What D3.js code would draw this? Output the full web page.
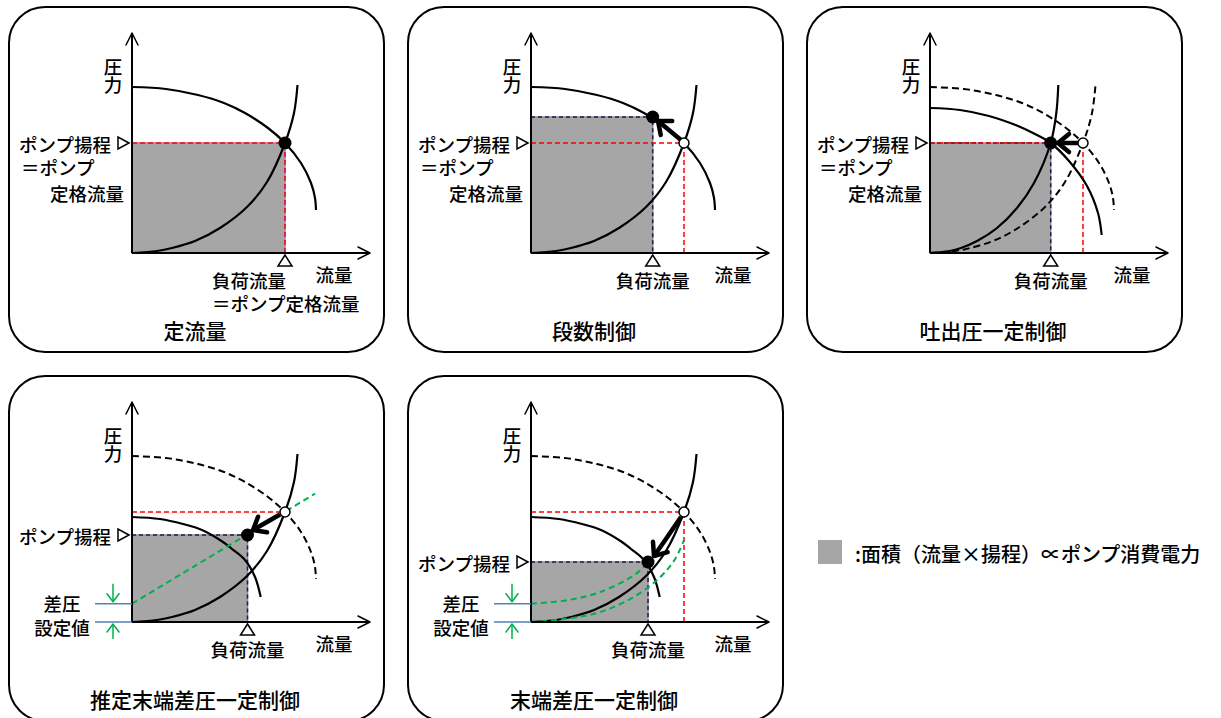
<!DOCTYPE html>
<html>
<head>
<meta charset="utf-8">
<title>ポンプ制御方式</title>
<script src="https://cdn.jsdelivr.net/npm/d3@7"></script>
<style>
  body { margin: 0; background: #fff; }
  svg text { font-family: "Noto Sans CJK JP", "Noto Sans", sans-serif; fill: #000; font-weight: 500; }
</style>
</head>
<body>
<script>
// values: [flow, head], in px from each panel's origin
var titles = ["定流量", "段数制御", "吐出圧一定制御", "推定末端差圧一定制御", "末端差圧一定制御"];

var pumpRated    = [[0,166],[34,164],[66,158],[92,150],[113,140],[136,125],[153,110],[169,90],[179,70],[183,55],[184,43]];
var systemRated  = [[0,0],[25,2],[40,5],[63,12],[88,25],[115,46],[135,71],[153,110],[162,140],[165.5,168]];
var pumpLowered  = [[0,145],[30,143],[59,137],[88,127],[103,120],[120.7,110],[139,92],[157,67],[168,40],[171.7,18]];
var systemValve  = [[0,0],[19.6,2],[31,5],[47,12],[67,25],[87,45],[104,70],[120.7,110],[126.3,140],[128.3,168]];
var pumpSlow     = [[0,105],[28,103],[51,98],[70,92],[91,80],[100,73],[113,62],[123,45],[128.7,25]];
var estLine      = [[0,18.3],[183,128.3]];
var endUpper     = [[0,18.3],[36,21.7],[69.3,30],[102.7,46.7],[117.7,60],[136,83.3],[152.7,110]];
var endLower     = [[0,0],[36,3.3],[69.3,10],[102.7,25],[129.3,45],[144.3,63.3],[153,82]];

var ratedPoint     = [153,110];
var stagePoint     = [121.7,136];
var dischargePoint = [120.7,110];
var estPoint       = [115.5,87];
var endPoint       = [117,60];
var dpSetting      = 18.3;

var arrowStage     = [[150,113],[127,132]];
var arrowDischarge = [[148,110],[128,110]];
var arrowEst       = [[148,107.5],[121,92]];
var arrowEnd       = [[150,105],[137,86],[123,66]];

var headLines = ["ポンプ揚程", "＝ポンプ", "定格流量"];
var flowLines = ["負荷流量", "＝ポンプ定格流量"];
var axisY = "圧力";
var dpLines = ["差圧", "設定値"];
var legendText = ":面積（流量×揚程）∝ポンプ消費電力";

var W = 1221, H = 718;
var FS = 18.5;

var svg = d3.select("body").append("svg").attr("width", W).attr("height", H);
var defs = svg.append("defs");

function marker(id, d, color, width) {
  defs.append("marker")
    .attr("id", id)
    .attr("viewBox", "-16 -12 20 24")
    .attr("markerWidth", 20).attr("markerHeight", 24)
    .attr("markerUnits", "userSpaceOnUse")
    .attr("orient", "auto")
    .style("overflow", "visible")
    .append("path")
    .attr("d", d)
    .attr("fill", "none")
    .attr("stroke", color)
    .attr("stroke-width", width)
    .attr("stroke-linecap", "round")
    .attr("stroke-linejoin", "round");
}
marker("axisHead", "M-12,-6L0,0L-12,6", "#000", 1.5);
marker("thickHead", "M-11,-9L0,0L-11,9", "#000", 4.5);
marker("greenHead", "M-8,-6L0,0L-8,6", "#00b050", 1.5);

function drawPanel(p) {
  var g = svg.append("g");
  var x = d3.scaleLinear().domain([0, 238]).range([p.ox, p.ox + 238]);
  var y = d3.scaleLinear().domain([0, 220]).range([p.oy, p.oy - 220]);
  var line = d3.line().x(d => x(d[0])).y(d => y(d[1])).curve(d3.curveCatmullRom.alpha(0.5));

  // frame
  g.append("rect")
    .attr("x", p.ox - 123).attr("y", p.oy - 246)
    .attr("width", 375).attr("height", 345).attr("rx", 36)
    .attr("fill", "none").attr("stroke", "#000").attr("stroke-width", 2);

  // power area
  g.append("rect")
    .attr("x", x(0)).attr("y", y(p.area[1]))
    .attr("width", x(p.area[0]) - x(0)).attr("height", y(0) - y(p.area[1]))
    .attr("fill", "#a6a6a6").attr("stroke", "#8c86c0").attr("stroke-width", 1.5);
  if (p.edgeDash) {
    g.append("path")
      .attr("d", "M" + x(0) + "," + y(p.area[1]) + "L" + x(p.area[0]) + "," + y(p.area[1]) + "L" + x(p.area[0]) + "," + y(0))
      .attr("fill", "none").attr("stroke", "#222").attr("stroke-width", 1.5).attr("stroke-dasharray", "4,3");
  }

  // red guides
  if (p.redH) {
    g.append("line").attr("x1", x(0)).attr("x2", x(p.redH[1])).attr("y1", y(p.redH[0])).attr("y2", y(p.redH[0]))
      .attr("stroke", "#ff0000").attr("stroke-width", 1.5).attr("stroke-dasharray", "5,3");
  }
  if (p.redV) {
    g.append("line").attr("x1", x(p.redV[0])).attr("x2", x(p.redV[0])).attr("y1", y(0)).attr("y2", y(p.redV[1]))
      .attr("stroke", "#ff0000").attr("stroke-width", 1.5).attr("stroke-dasharray", "5,3");
  }

  // curves
  (p.dashed || []).forEach(function (c) {
    g.append("path").attr("d", line(c)).attr("fill", "none").attr("stroke", "#000")
      .attr("stroke-width", 2).attr("stroke-dasharray", "7,4");
  });
  (p.solid || []).forEach(function (c) {
    g.append("path").attr("d", line(c)).attr("fill", "none").attr("stroke", "#000").attr("stroke-width", 2.2);
  });
  (p.green || []).forEach(function (c) {
    g.append("path").attr("d", line(c)).attr("fill", "none").attr("stroke", "#00b050")
      .attr("stroke-width", 2).attr("stroke-dasharray", "6,4");
  });

  // axes
  g.append("line").attr("x1", x(0)).attr("y1", y(0)).attr("x2", x(0)).attr("y2", y(220))
    .attr("stroke", "#000").attr("stroke-width", 2).attr("marker-end", "url(#axisHead)");
  g.append("line").attr("x1", x(0)).attr("y1", y(0)).attr("x2", x(238)).attr("y2", y(0))
    .attr("stroke", "#000").attr("stroke-width", 2).attr("marker-end", "url(#axisHead)");

  // arrow between operating points
  if (p.arrow) {
    g.append("path").attr("d", line(p.arrow)).attr("fill", "none").attr("stroke", "#000")
      .attr("stroke-width", 4.5).attr("marker-end", "url(#thickHead)");
  }

  // operating points
  if (p.open) {
    g.append("circle").attr("cx", x(p.open[0])).attr("cy", y(p.open[1])).attr("r", 5)
      .attr("fill", "#fff").attr("stroke", "#000").attr("stroke-width", 1.5);
  }
  g.append("circle").attr("cx", x(p.filled[0])).attr("cy", y(p.filled[1])).attr("r", 6.5).attr("fill", "#000");

  // markers on the axes
  var ty = y(p.headTri);
  g.append("path")
    .attr("d", "M" + (x(0) - 3) + "," + ty + "L" + (x(0) - 14) + "," + (ty - 6) + "L" + (x(0) - 14) + "," + (ty + 6) + "Z")
    .attr("fill", "#fff").attr("stroke", "#000").attr("stroke-width", 1.5);
  var tx = x(p.flowTri);
  g.append("path")
    .attr("d", "M" + tx + "," + (y(0) + 2) + "L" + (tx - 7) + "," + (y(0) + 13) + "L" + (tx + 7) + "," + (y(0) + 13) + "Z")
    .attr("fill", "#fff").attr("stroke", "#000").attr("stroke-width", 1.5);

  // texts: one <text> per label block, lines as tspans
  function block(lines, size) {
    var t = g.append("text").attr("font-size", size || FS).attr("dominant-baseline", "central");
    lines.forEach(function (l) {
      t.append("tspan").attr("x", l.x).attr("y", l.y).attr("text-anchor", l.a || "middle")
        .attr("dominant-baseline", "central").text(l.s);
    });
    return t;
  }
  // 圧力 written vertically
  g.append("text").attr("x", p.ox - 19).attr("y", p.oy - 195.5)
    .attr("font-size", FS).style("writing-mode", "vertical-rl")
    .attr("text-anchor", "start").attr("dominant-baseline", "central").text(axisY);

  var hl = [{ s: headLines[0], x: p.ox - 21, y: ty + 1, a: "end" }];
  if (p.ratedLabels) {
    hl.push({ s: headLines[1], x: p.ox - 111, y: ty + 24, a: "start" });
    hl.push({ s: headLines[2], x: p.ox - 8, y: ty + 50, a: "end" });
  }
  block(hl);
  if (p.flowLeft) {
    block([{ s: flowLines[0], x: x(p.flowLeft), y: p.oy + 27, a: "start" },
           { s: flowLines[1], x: x(p.flowLeft), y: p.oy + 50, a: "start" }]);
  } else {
    block([{ s: flowLines[0], x: tx, y: p.oy + 27 }]);
  }
  block([{ s: "流量", x: p.ox + 202, y: p.oy + 21 }]);
  block([{ s: p.title, x: p.ox + 63, y: p.oy + 77 }], 21);

  // differential pressure setting
  if (p.dp) {
    [dpSetting, 0].forEach(function (v) {
      g.append("line").attr("x1", p.ox - 37).attr("x2", x(0)).attr("y1", y(v)).attr("y2", y(v))
        .attr("stroke", "#4f81bd").attr("stroke-width", 1.5);
    });
    g.append("line").attr("x1", p.ox - 19).attr("x2", p.ox - 19).attr("y1", y(dpSetting + 20)).attr("y2", y(dpSetting) - 2)
      .attr("stroke", "#00b050").attr("stroke-width", 1.5).attr("marker-end", "url(#greenHead)");
    g.append("line").attr("x1", p.ox - 19).attr("x2", p.ox - 19).attr("y1", y(-17)).attr("y2", y(0) + 2)
      .attr("stroke", "#00b050").attr("stroke-width", 1.5).attr("marker-end", "url(#greenHead)");
    block([{ s: dpLines[0], x: p.ox - 70, y: y(dpSetting) - 0.5 }, { s: dpLines[1], x: p.ox - 70, y: y(0) + 5 }]);
  }
}

drawPanel({
  title: titles[0], ox: 132, oy: 253,
  solid: [pumpRated, systemRated],
  area: ratedPoint, edgeDash: false,
  redH: [ratedPoint[1], ratedPoint[0]], redV: [ratedPoint[0], ratedPoint[1]],
  filled: ratedPoint, headTri: ratedPoint[1], flowTri: ratedPoint[0],
  ratedLabels: true, flowLeft: 80
});
drawPanel({
  title: titles[1], ox: 531, oy: 253,
  solid: [pumpRated, systemRated],
  area: stagePoint, edgeDash: true,
  redH: [ratedPoint[1], ratedPoint[0]], redV: [ratedPoint[0], ratedPoint[1]],
  open: ratedPoint, filled: stagePoint, arrow: arrowStage,
  headTri: ratedPoint[1], flowTri: stagePoint[0], ratedLabels: true
});
drawPanel({
  title: titles[2], ox: 930, oy: 253,
  dashed: [pumpRated, systemRated], solid: [pumpLowered, systemValve],
  area: dischargePoint, edgeDash: true,
  redH: [dischargePoint[1], dischargePoint[0]], redV: [ratedPoint[0], ratedPoint[1]],
  open: ratedPoint, filled: dischargePoint, arrow: arrowDischarge,
  headTri: dischargePoint[1], flowTri: dischargePoint[0], ratedLabels: true
});
drawPanel({
  title: titles[3], ox: 132, oy: 622,
  dashed: [pumpRated], solid: [systemRated, pumpSlow], green: [estLine],
  area: estPoint, edgeDash: true,
  redH: [ratedPoint[1], ratedPoint[0]],
  open: ratedPoint, filled: estPoint, arrow: arrowEst,
  headTri: estPoint[1], flowTri: estPoint[0], dp: true
});
drawPanel({
  title: titles[4], ox: 531, oy: 622,
  dashed: [pumpRated], solid: [systemRated, pumpSlow], green: [endUpper, endLower],
  area: endPoint, edgeDash: true,
  redH: [ratedPoint[1], ratedPoint[0]], redV: [ratedPoint[0], ratedPoint[1]],
  open: ratedPoint, filled: endPoint, arrow: arrowEnd,
  headTri: endPoint[1], flowTri: endPoint[0], dp: true
});

// legend
svg.append("rect").attr("x", 818).attr("y", 540).attr("width", 24).attr("height", 24).attr("fill", "#a6a6a6");
svg.append("text").attr("x", 855).attr("y", 553).attr("dominant-baseline", "central")
  .attr("font-size", 20).text(legendText);
</script>
</body>
</html>
